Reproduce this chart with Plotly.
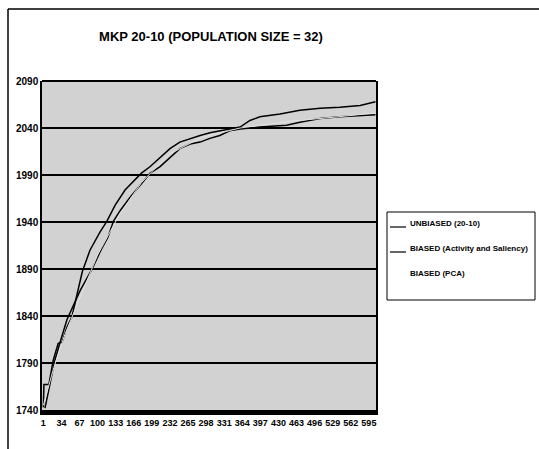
import plotly.graph_objects as go

# values (generation index, best fitness)
unbiased_x = [1, 2, 11, 19, 28, 35, 44, 53, 62, 72, 86, 104, 117, 132, 150, 166, 180, 196,
              214, 232, 250, 269, 287, 305, 323, 341, 360, 378, 396, 433, 469, 506, 542, 579, 607]
unbiased_y = [1743, 1767, 1767, 1793, 1811, 1812, 1828, 1839, 1862, 1887, 1910, 1929, 1941, 1958,
              1974, 1984, 1992, 1999, 2009, 2018, 2025, 2029, 2032, 2035, 2037, 2039, 2041, 2048,
              2052, 2055, 2059, 2061, 2062, 2064, 2068]

activity_x = [4, 13, 22, 31, 44, 68, 89, 106, 119, 129, 141, 159, 177, 196, 214, 232, 250, 269,
              287, 305, 323, 341, 360, 396, 445, 469, 506, 542, 579, 607]
activity_y = [1742, 1769, 1793, 1811, 1836, 1867, 1889, 1910, 1924, 1941, 1952, 1966, 1979, 1992,
              1999, 2009, 2018, 2023, 2025, 2029, 2032, 2037, 2039, 2041, 2043, 2046, 2050, 2052,
              2053, 2054]

# PCA series does not show up in the scan (pale colour), estimated close to the others
pca_x = [1, 20, 40, 70, 100, 140, 180, 230, 290, 360, 450, 540, 607]
pca_y = [1745, 1785, 1820, 1862, 1905, 1948, 1982, 2012, 2030, 2040, 2047, 2052, 2056]

x_ticks = [1, 34, 67, 100, 133, 166, 199, 232, 265, 298, 331, 364, 397, 430, 463, 496, 529, 562, 595]
y_ticks = [1740, 1790, 1840, 1890, 1940, 1990, 2040, 2090]

FONT = "Liberation Sans, Arial, sans-serif"

# plot area in pixels
W, H = 539, 449
PL, PR, PT, PB = 42, 376, 81, 410


def px(x):
    return (x - PL) / (PR - PL)


def py(y):
    return (PB - y) / (PB - PT)


series = [
    ("UNBIASED (20-10)", unbiased_x, unbiased_y, "black", 1.5),
    ("BIASED (Activity and Saliency)", activity_x, activity_y, "black", 1.5),
    ("BIASED (PCA)", pca_x, pca_y, "#e2e2e2", 1),
]

fig = go.Figure()
for name, xs, ys, color, width in series:
    fig.add_trace(go.Scatter(
        x=xs, y=ys, mode="lines", name=name,
        line=dict(color=color, width=width), showlegend=False,
    ))

# legend drawn by hand so it fits the narrow space on the right
shapes = [
    dict(type="rect", xref="paper", yref="paper", x0=px(387), x1=px(535), y0=py(212), y1=py(300),
         line=dict(color="black", width=1), fillcolor="white"),
]
annotations = []
for i, (name, xs, ys, color, width) in enumerate(series):
    yc = 223 + i * 25
    shapes.append(dict(type="line", xref="paper", yref="paper",
                       x0=px(390), x1=px(406), y0=py(yc + 4), y1=py(yc + 4),
                       line=dict(color="#ffffff" if color != "black" else color, width=1.2)))
    annotations.append(dict(xref="paper", yref="paper", x=px(408), y=py(yc),
                            xanchor="left", yanchor="middle", showarrow=False,
                            text=f"<b>{name}</b>", font=dict(size=8, family=FONT, color="black")))

shapes += [
    # top edge of plot
    dict(type="line", xref="paper", yref="paper", x0=0, x1=1, y0=1, y1=1,
         line=dict(color="black", width=2)),
    # outer chart border (left and top visible in the scan)
    dict(type="line", xref="paper", yref="paper", x0=px(8), x1=px(545), y0=py(9), y1=py(9),
         line=dict(color="black", width=1.5)),
    dict(type="line", xref="paper", yref="paper", x0=px(8), x1=px(8), y0=py(9), y1=py(455),
         line=dict(color="black", width=1.5)),
]

fig.update_layout(
    width=W, height=H,
    margin=dict(l=PL, r=W - PR, t=PT, b=H - PB, autoexpand=False),
    paper_bgcolor="white",
    plot_bgcolor="#d2d2d2",
    font=dict(family=FONT, color="black"),
    title=dict(
        text="<b>MKP 20-10 (POPULATION SIZE = 32)</b>",
        x=211 / W, xanchor="center", y=1 - 36 / H, yanchor="middle",
        font=dict(size=13, family=FONT, color="black"),
    ),
    xaxis=dict(
        range=[-1.5, 608],
        tickvals=x_ticks,
        ticktext=[f"<b>{t}</b>" for t in x_ticks],
        tickfont=dict(size=9),
        tickangle=0,
        showgrid=False, zeroline=False,
        showline=True, linecolor="black", linewidth=5,
        ticks="",
    ),
    yaxis=dict(
        range=[1740, 2090],
        tickvals=y_ticks,
        ticktext=[f"<b>{t}</b>" for t in y_ticks],
        tickfont=dict(size=10),
        showgrid=True, gridcolor="black", gridwidth=2,
        zeroline=False,
        showline=True, linecolor="black", linewidth=1.5, mirror=True,
        ticks="",
    ),
    shapes=shapes,
    annotations=annotations,
)

# page body has an 8px default margin; drop it so the figure sits at the window corner
fig.write_html("out.html", config={"displayModeBar": False},
               post_script="document.body.style.margin='0';")
